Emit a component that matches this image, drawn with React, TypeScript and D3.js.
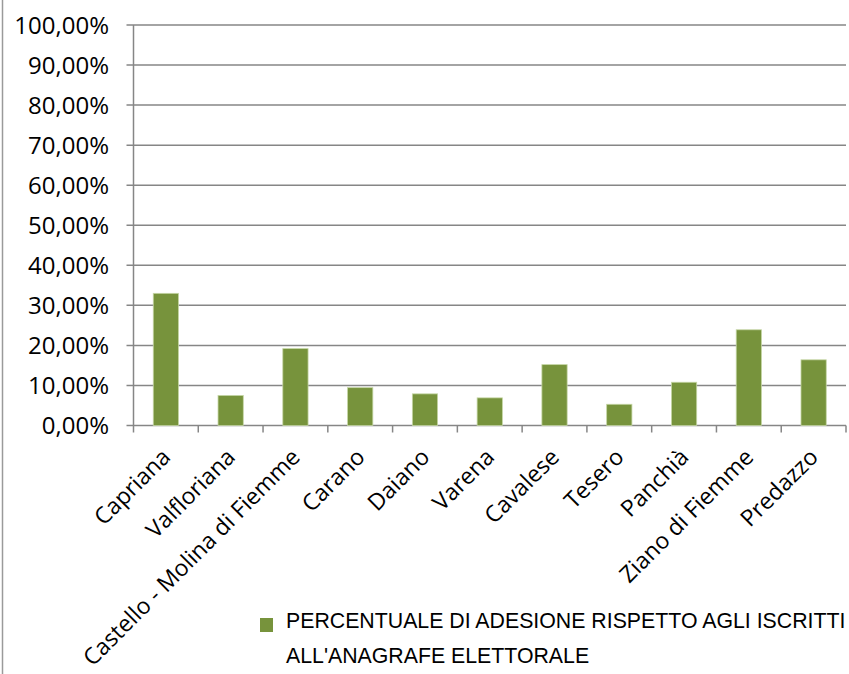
import React from 'react';
import * as d3 from 'd3';

const categories = [
  'Capriana',
  'Valfloriana',
  'Castello - Molina di Fiemme',
  'Carano',
  'Daiano',
  'Varena',
  'Cavalese',
  'Tesero',
  'Panchià',
  'Ziano di Fiemme',
  'Predazzo',
];
const values = [33.0, 7.5, 19.2, 9.45, 7.9, 6.9, 15.2, 5.3, 10.8, 23.9, 16.4];
const yTicks = [0, 10, 20, 30, 40, 50, 60, 70, 80, 90, 100];
const seriesName = [
  'PERCENTUALE DI ADESIONE RISPETTO AGLI ISCRITTI',
  "ALL'ANAGRAFE ELETTORALE",
];

const W = 849;
const H = 674;
const left = 133.5;
const right = 846;
const top = 25;
const bottom = 425.5;
const barColor = '#77933C';
const gridColor = '#868686';
const font = "'Open Sans', 'DejaVu Sans', sans-serif";

const fmt = (v: number) => v.toFixed(2).replace('.', ',') + '%';

const App: React.FC = () => {
  const x = d3.scaleBand<string>().domain(categories).range([left, right]).paddingInner(0.61).paddingOuter(0.305);
  const band = d3.scaleBand<string>().domain(categories).range([left, right]);
  const y = d3.scaleLinear().domain([0, 100]).range([bottom, top]);

  return (
    <svg width={W} height={H} style={{ position: 'absolute', left: 0, top: 0 }}>
      <rect width={W} height={H} fill="#fff" />
      <line x1={2.5} x2={2.5} y1={0} y2={H} stroke="#9a9a9a" strokeWidth={1.5} />
      {yTicks.map((t) => (
        <g key={t}>
          <line x1={left - 7} x2={right} y1={y(t)} y2={y(t)} stroke={gridColor} strokeWidth={1.5} />
          <text x={109} y={y(t)} dy="0.36em" textAnchor="end" fontFamily={font} fontSize={24} fill="#000">
            {fmt(t)}
          </text>
        </g>
      ))}
      <line x1={left} x2={left} y1={top} y2={bottom} stroke={gridColor} strokeWidth={1.5} />
      {categories.map((c) => (
        <line
          key={'t' + c}
          x1={band(c) as number}
          x2={band(c) as number}
          y1={bottom}
          y2={bottom + 7}
          stroke={gridColor}
          strokeWidth={1.5}
        />
      ))}
      <line x1={right} x2={right} y1={bottom} y2={bottom + 7} stroke={gridColor} strokeWidth={1.5} />
      {categories.map((c, i) => (
        <rect
          key={'b' + c}
          x={x(c)}
          y={y(values[i])}
          width={x.bandwidth()}
          height={bottom - y(values[i])}
          fill={barColor}
          stroke="#c5d6a5"
          strokeWidth={0.8}
        />
      ))}
      {categories.map((c) => {
        const cx = (band(c) as number) + band.bandwidth() / 2 + 6;
        const cy = bottom + 33;
        return (
          <text
            key={'l' + c}
            transform={`translate(${cx},${cy}) rotate(-45)`}
            textAnchor="end"
            fontFamily={font}
            fontSize={23}
            fill="#000"
          >
            {c}
          </text>
        );
      })}
      <rect x={260} y={618} width={13} height={14} fill={barColor} />
      {seriesName.map((s, i) => (
        <text
          key={s}
          x={286}
          y={628 + i * 35}
          fontFamily="'Liberation Sans', Arial, sans-serif"
          fontSize={21.3}
          fill="#000"
        >
          {s}
        </text>
      ))}
    </svg>
  );
};

export default App;
